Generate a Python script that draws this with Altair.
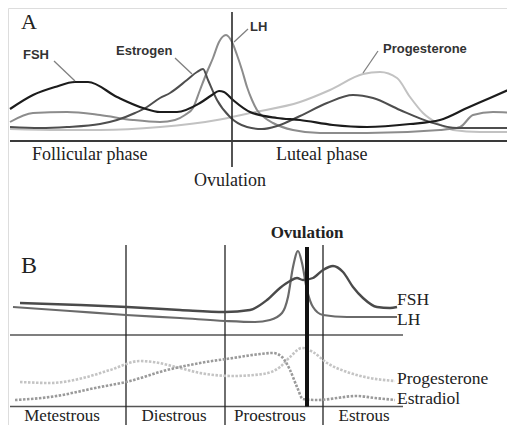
import altair as alt
import pandas as pd

# ---------------- data (canvas units) ----------------
# Panel A: human menstrual cycle
fsh_a_x = [10, 33, 55, 75, 88, 117, 143, 160, 177, 200, 212, 219, 224, 233, 250, 277, 300, 333, 367, 410, 440, 467, 490, 515]
fsh_a_y = [109, 95, 87, 82, 82, 97, 108, 112, 112, 103, 95, 91, 92, 100, 112, 118, 120, 125, 127, 124, 120, 108, 98, 87]

est_a_x = [10, 40, 67, 100, 117, 135, 147, 160, 170, 187, 197, 203, 208, 217, 230, 247, 262, 277, 300, 327, 353, 373, 400, 430, 457, 515]
est_a_y = [127, 128, 127, 124, 120, 113, 107, 98, 93, 80, 72, 69, 80, 100, 117, 127, 129, 126, 116, 103, 95, 98, 110, 122, 128, 128]

lh_a_x = [10, 33, 67, 100, 133, 160, 175, 185, 193, 200, 207, 213, 219, 226, 232, 237, 242, 247, 252, 257, 265, 273, 293, 320, 367, 440, 460, 473, 493, 515]
lh_a_y = [122, 113, 112, 115, 120, 122, 120, 115, 108, 90, 72, 58, 42, 35, 42, 55, 70, 87, 100, 110, 118, 123, 130, 133, 133, 130, 127, 115, 112, 113]

pro_a_x = [10, 60, 100, 160, 217, 250, 300, 330, 363, 380, 397, 410, 423, 437, 453, 480, 515]
pro_a_y = [129, 130, 130, 127, 120, 113, 102, 90, 74, 72, 78, 97, 113, 123, 130, 132, 132]

# Panel B: rodent estrous cycle
fsh_b_x = [20, 80, 127, 180, 225, 250, 267, 280, 290, 297, 303, 313, 323, 333, 343, 353, 363, 377, 390, 397]
fsh_b_y = [303, 305, 307, 310, 312, 310, 300, 288, 281, 278, 280, 278, 270, 266, 272, 287, 298, 307, 308, 307]

lh_b_x = [13, 70, 126, 180, 225, 255, 270, 282, 288, 293, 298, 302, 307, 313, 323, 347, 397]
lh_b_y = [307, 311, 315, 318, 321, 322, 320, 313, 297, 267, 251, 263, 290, 307, 315, 317, 317]

pro_b_x = [20, 50, 83, 110, 140, 153, 180, 200, 233, 263, 280, 290, 302, 313, 327, 347, 370, 395]
pro_b_y = [382, 383, 378, 370, 361, 362, 368, 373, 376, 374, 367, 357, 348, 352, 363, 372, 378, 381]

estr_b_x = [15, 50, 100, 126, 167, 200, 233, 260, 273, 282, 290, 297, 303, 317, 357, 375, 395]
estr_b_y = [400, 397, 387, 382, 370, 363, 358, 354, 353, 357, 370, 387, 399, 400, 396, 398, 400]

phases_a = ["Follicular phase", "Luteal phase"]
hormones_a = ["FSH", "Estrogen", "LH", "Progesterone"]
stages_b = ["Metestrous", "Diestrous", "Proestrous", "Estrous"]
hormones_b = ["FSH", "LH", "Progesterone", "Estradiol"]

# ---------------- layout ----------------
W, H = 499, 417
xs = alt.Scale(domain=[8, 8 + W], nice=False, zero=False)
ys = alt.Scale(domain=[8, 8 + H], nice=False, zero=False, reverse=True)


def X(f="x"):
    return alt.X(f"{f}:Q", scale=xs, axis=None)


def Y(f="y"):
    return alt.Y(f"{f}:Q", scale=ys, axis=None)


layers = []


def curve(xv, yv, color, width, dash=None):
    df = pd.DataFrame({"x": xv, "y": yv})
    kw = dict(color=color, strokeWidth=width, interpolate="monotone", clip=False)
    if dash:
        kw["strokeDash"] = dash
    layers.append(alt.Chart(df).mark_line(**kw).encode(x=X(), y=Y(), order="x:Q"))


def rules(segs, color, width):
    df = pd.DataFrame(segs, columns=["x", "y", "x2", "y2"])
    layers.append(alt.Chart(df).mark_rule(color=color, strokeWidth=width).encode(
        x=X(), y=Y(), x2="x2:Q", y2="y2:Q"))


def texts(items, font, size, weight="normal", align="left", color="#222", baseline="middle"):
    df = pd.DataFrame(items, columns=["t", "x", "y"])
    layers.append(alt.Chart(df).mark_text(font=font, fontSize=size, fontWeight=weight,
                                          align=align, baseline=baseline, color=color).encode(
        x=X(), y=Y(), text="t:N"))


SERIF = "Liberation Serif"
SANS = "Liberation Sans"

# Panel A curves
curve(pro_a_x, pro_a_y, "#c2c2c2", 2)
curve(lh_a_x, lh_a_y, "#8c8c8c", 2)
curve(est_a_x, est_a_y, "#4e4e4e", 2)
curve(fsh_a_x, fsh_a_y, "#1c1c1c", 2.2)

# Panel A lines
rules([(232, 12, 232, 167)], "#2a2a2a", 1.6)
rules([(10, 141, 515, 141)], "#3a3a3a", 2)
rules([(54, 61, 75, 81), (175, 58, 192, 74), (248, 29, 234, 42), (378, 51, 363, 73)], "#808080", 1.3)

# Panel A text
texts([("A", 21, 21.5)], SERIF, 22)
texts([(phases_a[0], 32, 155), (phases_a[1], 276, 155)], SERIF, 18)
texts([("Ovulation", 230, 181)], SERIF, 18, align="center")
texts([(hormones_a[0], 23, 55), (hormones_a[1], 116, 51), (hormones_a[2], 250, 27),
       (hormones_a[3], 383, 49)], SANS, 13, weight="bold", color="#333")

# Panel B lines
rules([(10, 335, 403, 335), (10, 406.5, 403, 406.5)], "#555555", 1.6)
rules([(126, 245, 126, 433), (225, 245, 225, 433), (323, 245, 323, 433)], "#222222", 1.3)

# Panel B curves
curve(pro_b_x, pro_b_y, "#c4c4c4", 2.6, dash=[2.5, 1.5])
curve(estr_b_x, estr_b_y, "#9a9a9a", 2.6, dash=[2.5, 1.5])
curve(lh_b_x, lh_b_y, "#6a6a6a", 2.2)
curve(fsh_b_x, fsh_b_y, "#4a4a4a", 2.4)

rules([(307, 247, 307, 406.5)], "#111111", 4)

# Panel B text
texts([("B", 21, 266)], SERIF, 24)
texts([("Ovulation", 307, 233)], SERIF, 17, weight="bold", align="center")
texts([(hormones_b[0], 397, 299.5), (hormones_b[1], 397, 319.5)], SERIF, 17.5)
texts([(hormones_b[2], 397, 379), (hormones_b[3], 397, 399)], SERIF, 17.5)
texts([(stages_b[0], 62, 421), (stages_b[1], 174, 421), (stages_b[2], 270, 421),
       (stages_b[3], 364, 421)], SERIF, 17, align="center", baseline="alphabetic")

chart = alt.layer(*layers).properties(
    width=W, height=H, padding=0, autosize=alt.AutoSizeParams(type="none")
).configure_view(stroke=None).configure(background="white")

chart.save("out.html", embed_options={"renderer": "svg", "actions": False})
